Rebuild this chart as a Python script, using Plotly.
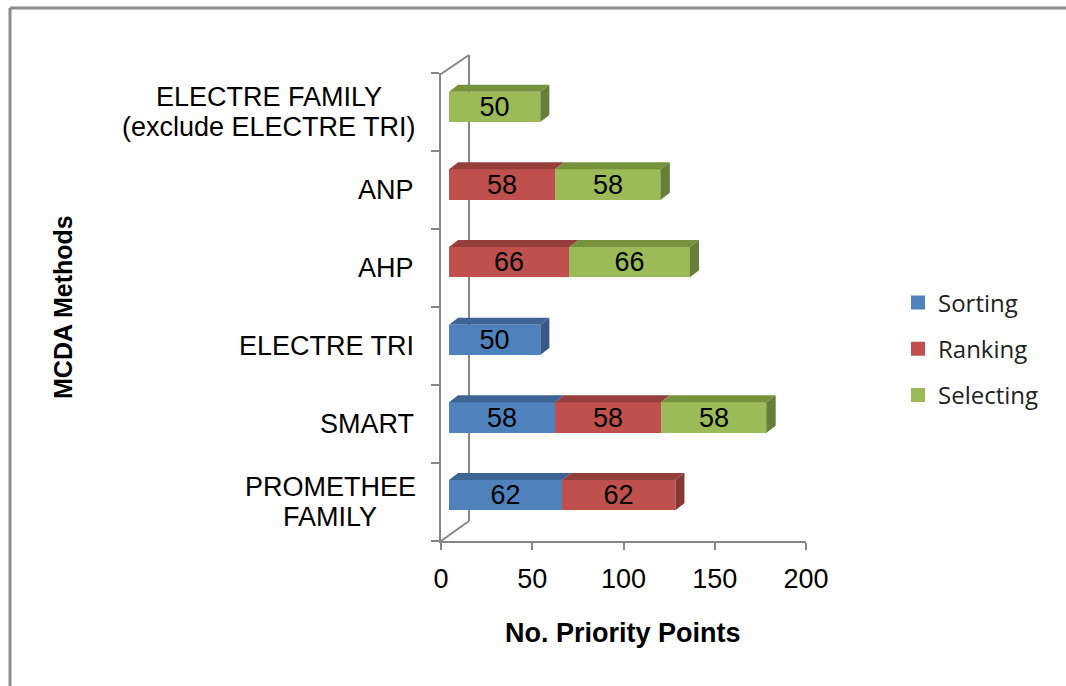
import plotly.graph_objects as go

# ---- data ----
methods = [
    ["PROMETHEE", "FAMILY"],
    ["SMART"],
    ["ELECTRE TRI"],
    ["AHP"],
    ["ANP"],
    ["ELECTRE FAMILY", "(exclude ELECTRE TRI)"],
]
sorting = [62, 58, 50, None, None, None]
ranking = [62, 58, None, 66, 58, None]
selecting = [None, 58, None, 66, 58, 50]
x_ticks = [0, 50, 100, 150, 200]

series = [
    ("Sorting", sorting, "#4F81BD", "#3E6495", "#375A87"),
    ("Ranking", ranking, "#C0504D", "#953F3C", "#863735"),
    ("Selecting", selecting, "#9BBB59", "#76923C", "#66803A"),
]

# ---- figure geometry (pixels of the 1066x686 canvas) ----
W, H = 1066, 686
AX = "#868686"
FONT = "Liberation Sans, Arial"
BAR_W = 0.39          # bar thickness in category units
DEPTH_X = 5.0         # oblique depth of bars, value units
DEPTH_Y = 0.09        # oblique depth of bars, category units
LABEL_RIGHT = 416     # right edge of category labels (px)
LINE_STEP = 0.195     # half line spacing of two-line labels, category units
# horizontal centre (px) of the two-line label blocks, keyed by row
BLOCK_CENTER = {0: 330, 5: 269}


def px(x):
    return x / W


def py(y):
    return 1 - y / H


rows = list(range(len(methods)))
fig = go.Figure()

for name, vals, front, top, side in series:
    fig.add_trace(go.Bar(
        y=rows, x=vals, name=name, orientation="h",
        marker=dict(color=front, line=dict(width=0)),
        width=BAR_W,
        text=[None if v is None else str(v) for v in vals],
        textposition="inside", insidetextanchor="middle",
        textangle=0, constraintext="none",
        textfont=dict(family=FONT, size=27, color="#000000"),
        legendgroup=name, showlegend=False, hoverinfo="skip",
        xaxis="x", yaxis="y",
    ))

# legend keys drawn as larger square swatches
for name, vals, front, top, side in series:
    fig.add_trace(go.Scatter(
        x=[None], y=[None], mode="markers", name=name, legendgroup=name,
        marker=dict(symbol="square", size=14, color=front),
        xaxis="x", yaxis="y", hoverinfo="skip",
    ))

# helper trace so that the front axes are drawn
fig.add_trace(go.Scatter(x=[None], y=[None], xaxis="x2", yaxis="y2",
                         showlegend=False, hoverinfo="skip"))

# ---- oblique top and side faces of the stacked bars ----
shapes = []
for r in rows:
    start = 0.0
    last = None
    for name, vals, front, top, side in series:
        v = vals[r]
        if v is None:
            continue
        x0, x1 = start, start + v
        yt = r + BAR_W / 2
        shapes.append(dict(
            type="path", xref="x", yref="y", layer="above",
            path=f"M {x0},{yt} L {x0 + DEPTH_X},{yt + DEPTH_Y} "
                 f"L {x1 + DEPTH_X},{yt + DEPTH_Y} L {x1},{yt} Z",
            fillcolor=top, line=dict(width=0),
        ))
        last = (x1, side)
        start = x1
    if last is not None:
        x1, side = last
        yt, yb = r + BAR_W / 2, r - BAR_W / 2
        shapes.append(dict(
            type="path", xref="x", yref="y", layer="above",
            path=f"M {x1},{yt} L {x1 + DEPTH_X},{yt + DEPTH_Y} "
                 f"L {x1 + DEPTH_X},{yb + DEPTH_Y} L {x1},{yb} Z",
            fillcolor=side, line=dict(width=0),
        ))

# back wall edge and the floor / top diagonals of the 3-D frame
wall = dict(xref="paper", yref="paper", line=dict(color=AX, width=2), layer="below")
shapes += [
    dict(type="line", x0=px(469), y0=py(55), x1=px(469), y1=py(521), **wall),
    dict(type="line", x0=px(441), y0=py(74), x1=px(469), y1=py(55), **wall),
    dict(type="line", x0=px(441), y0=py(541), x1=px(469), y1=py(521), **wall),
]
# chart-area frame
frame = dict(xref="paper", yref="paper", line=dict(color="#8C8C8C", width=3))
shapes += [
    dict(type="line", x0=px(10), y0=py(8), x1=1, y1=py(8), **frame),
    dict(type="line", x0=px(10), y0=py(8), x1=px(10), y1=0, **frame),
]

# category labels (two-line labels are centred as a block)
annotations = []
label_font = dict(family=FONT, size=27, color="#000000")
for r, lines in enumerate(methods):
    if len(lines) == 1:
        annotations.append(dict(
            x=px(LABEL_RIGHT), xref="paper", y=r, yref="y2", text=lines[0],
            showarrow=False, xanchor="right", yanchor="middle", font=label_font,
        ))
    else:
        for k, line in enumerate(lines):
            annotations.append(dict(
                x=px(BLOCK_CENTER[r]), xref="paper",
                y=r + LINE_STEP * (1 - 2 * k), yref="y2", text=line,
                showarrow=False, xanchor="center", yanchor="middle", font=label_font,
            ))
annotations += [
    dict(x=px(63), y=py(307), xref="paper", yref="paper", text="<b>MCDA Methods</b>",
         textangle=-90, showarrow=False, xanchor="center", yanchor="middle",
         font=dict(family=FONT, size=25, color="#000000")),
    dict(x=px(623), y=py(633), xref="paper", yref="paper", text="<b>No. Priority Points</b>",
         showarrow=False, xanchor="center", yanchor="middle",
         font=dict(family=FONT, size=27, color="#000000")),
]

fig.update_layout(
    width=W, height=H, autosize=False,
    margin=dict(l=0, r=0, t=0, b=0, pad=0, autoexpand=False),
    paper_bgcolor="white", plot_bgcolor="rgba(0,0,0,0)",
    barmode="stack", bargap=0,
    showlegend=True,
    legend=dict(
        x=px(898), y=py(349), xanchor="left", yanchor="middle",
        traceorder="grouped", tracegroupgap=12,
        font=dict(family="Open Sans", size=24, color="#222222"),
        bgcolor="rgba(0,0,0,0)",
    ),
    xaxis=dict(domain=[px(449), px(814)], range=[0, 200], visible=False, anchor="y"),
    yaxis=dict(domain=[py(534), py(68)], range=[-0.5, 5.5], visible=False, anchor="x"),
    xaxis2=dict(
        domain=[px(441), px(806)], range=[0, 200], anchor="y2",
        tickvals=x_ticks, ticks="outside", ticklen=7, tickwidth=2, tickcolor=AX,
        showline=True, linecolor=AX, linewidth=2, showgrid=False, zeroline=False,
        tickfont=dict(family=FONT, size=27, color="#000000"),
        ticklabelstandoff=6,
    ),
    yaxis2=dict(
        domain=[py(541), py(73)], range=[-0.5, 5.5], anchor="x2",
        tickvals=[-0.5, 0.5, 1.5, 2.5, 3.5, 4.5, 5.5], ticks="outside", ticklen=8,
        tickwidth=2, tickcolor=AX, showticklabels=False,
        showline=True, linecolor=AX, linewidth=2, showgrid=False, zeroline=False,
    ),
    shapes=shapes,
    annotations=annotations,
)

fig.write_html("out.html")
